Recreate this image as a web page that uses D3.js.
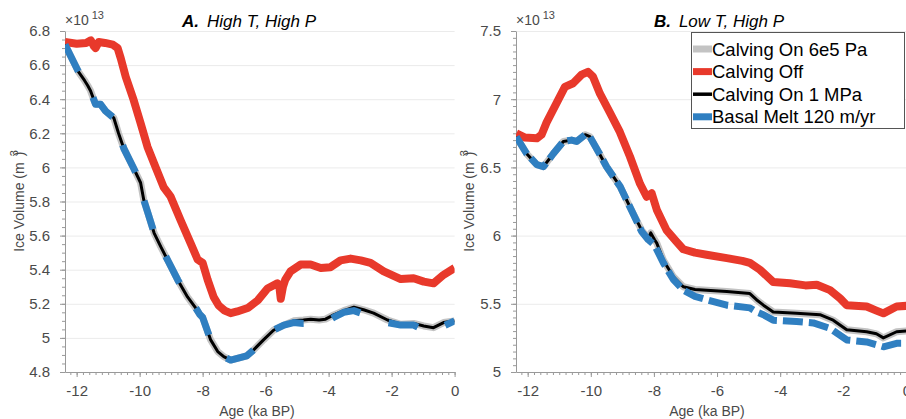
<!DOCTYPE html>
<html>
<head>
<meta charset="utf-8">
<script src="https://cdn.jsdelivr.net/npm/d3@7"></script>
<style>
  body { margin: 0; background: #fff; }
  svg { font-family: "Liberation Sans", Arial, Helvetica, sans-serif; }
  .tick-label { fill: #4a4a4a; font-size: 15px; }
  .axis-label { fill: #4a4a4a; font-size: 14px; }
  .legend-text { fill: #000; font-size: 18.5px; }
</style>
</head>
<body>
<div id="chart"></div>
<script>
// ---------------------------------------------------------
// DATA (ice volume x 1e13 m^3, age in ka BP)
var seriesNames = ["Calving On 6e5 Pa", "Calving Off", "Calving On 1 MPa", "Basal Melt 120 m/yr"];

// Panel A. High T, High P
var ageA_off = [-12.37,-12.0,-11.7,-11.55,-11.45,-11.4,-11.3,-11.1,-10.85,-10.7,-10.6,-10.44,-10.19,-9.97,-9.75,-9.49,-9.24,-9.02,-8.7,-8.38,-8.16,-8.0,-7.84,-7.65,-7.49,-7.3,-7.11,-6.9,-6.57,-6.25,-5.94,-5.63,-5.57,-5.52,-5.45,-5.38,-5.21,-4.89,-4.57,-4.25,-3.94,-3.62,-3.3,-2.98,-2.67,-2.25,-1.71,-1.3,-0.98,-0.67,-0.35,0];
var volA_off = [6.735,6.725,6.73,6.745,6.71,6.70,6.735,6.73,6.72,6.70,6.64,6.53,6.395,6.26,6.12,6.0,5.885,5.83,5.69,5.555,5.46,5.44,5.34,5.24,5.19,5.16,5.145,5.155,5.175,5.22,5.29,5.32,5.31,5.23,5.30,5.34,5.39,5.43,5.43,5.41,5.415,5.455,5.465,5.455,5.44,5.39,5.345,5.35,5.33,5.32,5.37,5.41];
var ageA_on = [-12.37,-12.1,-11.94,-11.75,-11.65,-11.56,-11.46,-11.40,-11.24,-11.08,-10.82,-10.67,-10.5,-10.19,-9.97,-9.87,-9.75,-9.54,-9.33,-9.08,-8.79,-8.48,-8.2,-8.1,-8.0,-7.75,-7.52,-7.33,-7.11,-6.9,-6.6,-6.38,-6.06,-5.75,-5.42,-5.11,-4.8,-4.57,-4.3,-4.1,-3.84,-3.52,-3.2,-2.89,-2.57,-2.13,-1.71,-1.3,-0.98,-0.67,-0.35,0];
var volA_6e5 = [6.72,6.62,6.56,6.51,6.48,6.45,6.40,6.37,6.37,6.33,6.29,6.20,6.11,5.995,5.91,5.81,5.74,5.615,5.535,5.445,5.34,5.24,5.17,5.14,5.12,4.99,4.92,4.89,4.87,4.88,4.895,4.93,4.99,5.045,5.075,5.10,5.105,5.11,5.105,5.11,5.135,5.16,5.18,5.165,5.145,5.105,5.08,5.085,5.07,5.06,5.09,5.10];
var volA_1mpa = [6.72,6.62,6.56,6.51,6.48,6.45,6.40,6.37,6.37,6.33,6.29,6.20,6.11,5.995,5.91,5.81,5.74,5.615,5.535,5.445,5.34,5.24,5.17,5.14,5.12,4.99,4.92,4.89,4.87,4.88,4.895,4.93,4.99,5.045,5.075,5.10,5.105,5.11,5.105,5.11,5.135,5.16,5.18,5.165,5.145,5.105,5.08,5.085,5.07,5.06,5.09,5.10];
var volA_melt = [6.72,6.62,6.56,6.51,6.48,6.45,6.40,6.37,6.37,6.33,6.29,6.20,6.11,5.995,5.91,5.81,5.74,5.615,5.535,5.445,5.34,5.24,5.17,5.14,5.12,4.99,4.92,4.89,4.87,4.88,4.895,4.93,4.99,5.045,5.075,5.09,5.085,5.085,5.08,5.09,5.12,5.15,5.16,5.14,5.12,5.09,5.075,5.075,5.045,5.035,5.07,5.10];

// Panel B. Low T, High P
var ageB_off = [-12.36,-12.1,-11.71,-11.56,-11.4,-11.2,-11.0,-10.82,-10.56,-10.29,-10.09,-9.93,-9.71,-9.39,-9.08,-8.76,-8.44,-8.23,-8.07,-7.91,-7.6,-7.3,-7.07,-6.7,-6.33,-5.69,-5.2,-4.96,-4.64,-4.22,-3.69,-3.2,-2.84,-2.42,-2.1,-1.89,-1.26,-0.95,-0.73,-0.31,0];
var volB_off = [6.75,6.72,6.713,6.74,6.83,6.92,7.01,7.09,7.117,7.18,7.20,7.165,7.04,6.90,6.76,6.58,6.38,6.285,6.31,6.19,6.04,5.96,5.90,5.875,5.86,5.835,5.815,5.80,5.75,5.66,5.65,5.635,5.64,5.60,5.54,5.49,5.48,5.45,5.43,5.48,5.485];
var ageB_on = [-12.36,-12.03,-11.71,-11.5,-11.19,-10.87,-10.61,-10.45,-10.18,-10.03,-9.76,-9.50,-9.07,-8.76,-8.39,-8.18,-8.1,-7.98,-7.91,-7.70,-7.39,-7.07,-6.7,-6.33,-5.69,-4.96,-4.75,-4.53,-4.22,-3.48,-2.74,-2.32,-1.89,-1.26,-0.95,-0.73,-0.31,0];
var volB_6e5 = [6.725,6.60,6.52,6.505,6.60,6.69,6.70,6.69,6.74,6.725,6.615,6.505,6.36,6.21,6.04,5.98,6.02,5.97,5.945,5.82,5.70,5.625,5.605,5.60,5.59,5.575,5.53,5.49,5.44,5.43,5.42,5.38,5.31,5.295,5.28,5.25,5.295,5.30];
var volB_1mpa = [6.725,6.60,6.52,6.505,6.60,6.69,6.70,6.69,6.74,6.725,6.615,6.505,6.36,6.21,6.04,5.98,6.02,5.97,5.945,5.82,5.70,5.625,5.605,5.60,5.59,5.575,5.53,5.49,5.44,5.43,5.42,5.38,5.31,5.295,5.28,5.25,5.295,5.30];
var ageB_melt = [-12.36,-12.03,-11.71,-11.5,-11.19,-10.87,-10.61,-10.45,-10.18,-10.03,-9.76,-9.50,-9.07,-8.76,-8.39,-8.18,-7.98,-7.70,-7.39,-7.07,-6.7,-6.33,-5.69,-4.96,-4.75,-4.53,-4.22,-3.48,-2.95,-2.42,-1.89,-1.26,-0.95,-0.73,-0.31,0];
var volB_melt = [6.725,6.60,6.52,6.505,6.60,6.69,6.70,6.69,6.74,6.725,6.615,6.505,6.36,6.21,6.03,5.97,5.93,5.80,5.68,5.60,5.555,5.53,5.49,5.47,5.44,5.42,5.38,5.37,5.36,5.32,5.235,5.22,5.20,5.185,5.21,5.21];

var xTicks = [-12, -10, -8, -6, -4, -2, 0];
var yTicksA = [4.8, 5, 5.2, 5.4, 5.6, 5.8, 6, 6.2, 6.4, 6.6, 6.8];
var yTicksB = [5, 5.5, 6, 6.5, 7, 7.5];

// ---------------------------------------------------------
var colors = { gray: "#c3c3c3", red: "#e8392b", black: "#000000", blue: "#2f7fc1" };

var svg = d3.select("#chart")
  .append("svg")
  .attr("width", 906)
  .attr("height", 419);

function drawPanel(cfg) {
  var top = 31, bottom = 372;

  var xScale = d3.scaleLinear().domain([-12.37, 0]).range([cfg.left, cfg.right]);
  var yScale = d3.scaleLinear().domain(cfg.yDomain).range([bottom, top]);

  var g = svg.append("g").attr("id", cfg.id);

  // grid
  g.append("g")
    .selectAll("line")
    .data(cfg.yTicks)
    .enter()
    .append("line")
    .attr("x1", cfg.left)
    .attr("x2", cfg.right)
    .attr("y1", function (d) { return yScale(d) + 0.5; })
    .attr("y2", function (d) { return yScale(d) + 0.5; })
    .attr("stroke", "#ebebeb")
    .attr("stroke-width", 1);

  // axis-x (minor + major)
  var xMinor = d3.range(-12.2, 0.01, 0.2);
  g.append("g")
    .attr("transform", `translate(0, ${bottom})`)
    .call(d3.axisBottom(xScale).tickValues(xMinor).tickSize(3).tickFormat(""))
    .call(function (a) { a.select(".domain").remove(); })
    .selectAll("line").attr("stroke", "#999");
  var xAxis = g.append("g")
    .attr("transform", `translate(0, ${bottom})`)
    .call(d3.axisBottom(xScale).tickValues(xTicks).tickSize(5).tickSizeOuter(0).tickPadding(8)
      .tickFormat(function (d) { return d === 0 ? "0" : String(d); }));
  xAxis.select(".domain").attr("stroke", "#999");
  xAxis.selectAll("line").attr("stroke", "#999");
  xAxis.selectAll("text").attr("class", "tick-label").attr("font-size", null).attr("font-family", null);

  // axis-y (minor + major)
  var yMinor = d3.range(cfg.yDomain[0], cfg.yDomain[1] + 0.001, 0.05);
  g.append("g")
    .attr("transform", `translate(${cfg.left}, 0)`)
    .call(d3.axisLeft(yScale).tickValues(yMinor).tickSize(3).tickFormat(""))
    .call(function (a) { a.select(".domain").remove(); })
    .selectAll("line").attr("stroke", "#999");
  var yAxis = g.append("g")
    .attr("transform", `translate(${cfg.left}, 0)`)
    .call(d3.axisLeft(yScale).tickValues(cfg.yTicks).tickSize(5).tickSizeOuter(0).tickPadding(10)
      .tickFormat(function (d) { return String(d); }));
  yAxis.select(".domain").attr("stroke", "#999");
  yAxis.selectAll("line").attr("stroke", "#999");
  yAxis.selectAll("text").attr("class", "tick-label").attr("font-size", null).attr("font-family", null);

  // x10^13
  var exp = g.append("text")
    .attr("x", cfg.left)
    .attr("y", 25)
    .attr("class", "axis-label")
    .text("\u00d710");
  exp.append("tspan").attr("dx", 3).attr("dy", -6).attr("font-size", 11).text("13");

  // axis labels
  g.append("text")
    .attr("x", cfg.labelX)
    .attr("y", 416)
    .attr("text-anchor", "middle")
    .attr("class", "axis-label")
    .text("Age (ka BP)");

  var yl = g.append("text")
    .attr("transform", `translate(${cfg.yLabelX}, 201) rotate(-90)`)
    .attr("text-anchor", "middle")
    .attr("class", "axis-label")
    .text("Ice Volume (m");
  yl.append("tspan").attr("dx", 6).attr("dy", -6).attr("font-size", 11).text("3");
  yl.append("tspan").attr("dx", -6).attr("dy", 6).text(")");

  // title
  var title = g.append("text")
    .attr("x", cfg.titleX)
    .attr("y", 27)
    .attr("text-anchor", "middle")
    .attr("font-size", 17)
    .attr("fill", "#000");
  title.append("tspan").attr("font-weight", "bold").attr("font-style", "italic").text(cfg.titleBold);
  title.append("tspan").attr("font-style", "italic").attr("dx", 8).text(cfg.titleText);

  // lines
  g.append("clipPath")
    .attr("id", cfg.id + "-clip")
    .append("rect")
    .attr("x", cfg.left)
    .attr("y", top - 10)
    .attr("width", cfg.right - cfg.left)
    .attr("height", bottom - top + 10);

  var line = d3.line()
    .x(function (d) { return xScale(d[0]); })
    .y(function (d) { return yScale(d[1]); });

  var lines = g.append("g").attr("clip-path", `url(#${cfg.id}-clip)`);

  cfg.series.forEach(function (s) {
    lines.append("path")
      .datum(d3.zip(s.age, s.vol))
      .attr("d", line)
      .attr("fill", "none")
      .attr("stroke", s.color)
      .attr("stroke-width", s.width)
      .attr("stroke-linejoin", "round")
      .attr("stroke-linecap", "butt")
      .attr("stroke-dasharray", s.dash || null);
  });
}

drawPanel({
  id: "panelA",
  left: 65,
  right: 454.6,
  yDomain: [4.8, 6.8],
  yTicks: yTicksA,
  labelX: 257,
  yLabelX: 24,
  titleX: 249,
  titleBold: "A.",
  titleText: "High T, High P",
  series: [
    { age: ageA_on, vol: volA_6e5, color: colors.gray, width: 7 },
    { age: ageA_off, vol: volA_off, color: colors.red, width: 8 },
    { age: ageA_on, vol: volA_1mpa, color: colors.black, width: 3 },
    { age: ageA_on, vol: volA_melt, color: colors.blue, width: 7, dash: "30,30" }
  ]
});

drawPanel({
  id: "panelB",
  left: 516,
  right: 906.4,
  yDomain: [5, 7.5],
  yTicks: yTicksB,
  labelX: 707,
  yLabelX: 474,
  titleX: 719,
  titleBold: "B.",
  titleText: "Low T, High P",
  series: [
    { age: ageB_on, vol: volB_6e5, color: colors.gray, width: 7 },
    { age: ageB_off, vol: volB_off, color: colors.red, width: 8 },
    { age: ageB_on, vol: volB_1mpa, color: colors.black, width: 3 },
    { age: ageB_melt, vol: volB_melt, color: colors.blue, width: 7, dash: "20,6" }
  ]
});

// ---------------------------------------------------------
// LEGEND
var legendColors = [colors.gray, colors.red, colors.black, colors.blue];
var legendWidths = [7, 7, 3.5, 7];

var legend = svg.append("g").attr("id", "legend").attr("transform", "translate(691, 32)");

legend.append("rect")
  .attr("x", 0.5)
  .attr("y", 0.5)
  .attr("width", 213)
  .attr("height", 96)
  .attr("fill", "#fff")
  .attr("stroke", "#555")
  .attr("stroke-width", 1);

var item = legend.selectAll(".item")
  .data(seriesNames)
  .enter()
  .append("g")
  .attr("class", "item")
  .attr("transform", function (d, i) { return `translate(0, ${17 + i * 22.6})`; });

item.append("line")
  .attr("x1", 2)
  .attr("x2", 21)
  .attr("y1", 0)
  .attr("y2", 0)
  .attr("stroke", function (d, i) { return legendColors[i]; })
  .attr("stroke-width", function (d, i) { return legendWidths[i]; });

item.append("text")
  .attr("x", 21)
  .attr("y", 6.5)
  .attr("class", "legend-text")
  .text(function (d) { return d; });
</script>
</body>
</html>
